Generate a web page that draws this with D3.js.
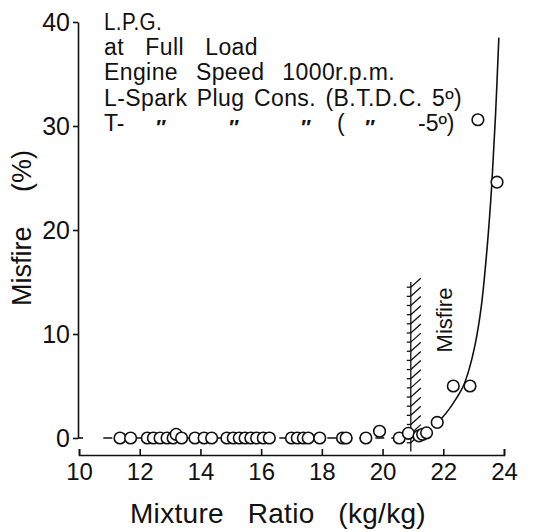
<!DOCTYPE html>
<html>
<head>
<meta charset="utf-8">
<script src="https://cdn.jsdelivr.net/npm/d3@7"></script>
<style>
  body { margin: 0; background: #fff; }
  svg { display: block; }
  text { font-family: "Liberation Sans", Arial, sans-serif; fill: #111; }
</style>
</head>
<body>
<svg id="chart" width="533" height="532"></svg>
<script>
// ---- data ----
const xTicks = [10, 12, 14, 16, 18, 20, 22, 24];
const yTicks = [0, 10, 20, 30, 40];
// points along / near the zero line (mixture ratio, misfire %)
const zeroX = [11.35, 11.7, 12.25, 12.45, 12.67, 12.9, 13.1, 13.2, 13.38, 13.82, 14.12, 14.37,
               14.87, 15.08, 15.28, 15.47, 15.66, 15.85, 16.07, 16.27, 17.0, 17.19, 17.39,
               17.55, 17.93, 18.68, 18.8, 19.45, 19.9, 20.55, 20.85, 21.2, 21.32, 21.45];
const zeroY = [0, 0, 0, 0, 0, 0, 0, 0.35, 0, 0, 0, 0,
               0, 0, 0, 0, 0, 0, 0, 0, 0, 0, 0,
               0, 0, 0, 0, 0, 0.65, 0, 0.45, 0.2, 0.35, 0.5];
// points in the misfire region
const highX = [21.8, 22.33, 22.88, 23.14, 23.77];
const highY = [1.5, 5.0, 5.0, 30.6, 24.6];
// fitted curve
const curveX = [21.85, 21.95, 22.2, 22.45, 22.66, 22.85, 23.05, 23.25, 23.45, 23.6, 23.72, 23.83];
const curveY = [1.6, 1.9, 2.8, 3.9, 5.0, 6.6, 9.0, 12.6, 18.5, 24.5, 31.0, 38.5];
const misfireLimit = 20.93;
const legendLines = ["L.P.G.", "at Full Load", "Engine Speed 1000r.p.m.", "L-Spark Plug Cons. (B.T.D.C. 5º)"];
const legendLast = ["T-", "\u2033", "\u2033", "\u2033", "(", "\u2033", "-5º)"];

// ---- scales ----
const svg = d3.select("#chart");
const x = d3.scaleLinear().domain([10, 24]).range([79, 504]);
const y = d3.scaleLinear().domain([0, 40]).range([438, 22]);

// helper: fit a text to a target width by widening word gaps (or squeezing if too long)
function fitWords(sel, target) {
  const node = sel.node();
  const len = node.getComputedTextLength();
  const gaps = (sel.text().match(/ /g) || []).length;
  if (len > target) sel.attr("textLength", target).attr("lengthAdjust", "spacingAndGlyphs");
  else if (gaps > 0) sel.attr("word-spacing", (target - len) / gaps);
}

// ---- x axis (below zero line) ----
const xAxisY = 455;
const xAxis = svg.append("g").attr("transform", `translate(0,${xAxisY})`)
  .call(d3.axisBottom(x).tickValues(xTicks).tickSizeInner(-6).tickSizeOuter(-6).tickPadding(8).tickFormat(d3.format("d")));
xAxis.select(".domain").attr("stroke", "#111").attr("stroke-width", 1.6);
xAxis.selectAll(".tick line").attr("stroke", "#111").attr("stroke-width", 1.6);
xAxis.selectAll(".tick text").attr("font-size", 24).attr("fill", "#111")
  .style("font-family", "Liberation Sans, Arial, sans-serif");

// ---- y axis ----
const yAxis = svg.append("g").attr("transform", `translate(78,0)`)
  .call(d3.axisLeft(y).tickValues(yTicks).tickSizeInner(5).tickSizeOuter(0).tickPadding(3).tickFormat(d3.format("d")));
yAxis.select(".domain").attr("stroke", "#111").attr("stroke-width", 1.6);
yAxis.selectAll(".tick line").attr("stroke", "#111").attr("stroke-width", 1.6);
yAxis.selectAll(".tick text").attr("font-size", 25).attr("fill", "#111")
  .style("font-family", "Liberation Sans, Arial, sans-serif");
svg.append("line").attr("x1", 78).attr("x2", 83).attr("y1", y(0)).attr("y2", y(0))
  .attr("stroke", "#111").attr("stroke-width", 1.6);

// ---- axis titles ----
const xt = svg.append("text").attr("x", 130).attr("y", 523)
  .attr("font-size", 28).attr("letter-spacing", 0.3).text("Mixture Ratio (kg/kg)");
fitWords(xt, 296);
svg.append("text").attr("transform", "translate(31,306) rotate(-90)")
  .attr("font-size", 27).text("Misfire");
svg.append("text").attr("transform", "translate(31,192) rotate(-90)")
  .attr("font-size", 27).text("(%)");

// ---- misfire limit with hatching ----
const lx = x(misfireLimit);
const hatch = svg.append("g").attr("stroke", "#111").attr("stroke-width", 1.3).attr("fill", "none");
hatch.append("line").attr("x1", lx).attr("x2", lx).attr("y1", y(15)).attr("y2", y(-1.3));
d3.range(14.5, -1.0, -0.88).forEach(v => {
  const py = y(v);
  hatch.append("line").attr("x1", lx - 4).attr("x2", lx).attr("y1", py).attr("y2", py);
  hatch.append("line").attr("x1", lx).attr("x2", lx + 10).attr("y1", py).attr("y2", py - 9);
});
svg.append("text").attr("transform", `translate(${lx + 41},320) rotate(-90)`).attr("text-anchor", "middle")
  .attr("font-size", 22).text("Misfire");

// ---- dashed zero line ----
svg.append("line").attr("x1", x(10.8)).attr("x2", x(20.7)).attr("y1", y(0)).attr("y2", y(0))
  .attr("stroke", "#111").attr("stroke-width", 1.5).attr("stroke-dasharray", "9,7");

// ---- curve ----
const curveData = curveX.map((v, i) => [v, curveY[i]]);
svg.append("path").datum(curveData)
  .attr("d", d3.line().x(d => x(d[0])).y(d => y(d[1])).curve(d3.curveCatmullRom))
  .attr("fill", "none").attr("stroke", "#111").attr("stroke-width", 1.6);

// ---- points ----
const pts = zeroX.map((v, i) => [v, zeroY[i]]).concat(highX.map((v, i) => [v, highY[i]]));
svg.append("g").selectAll("circle").data(pts).join("circle")
  .attr("cx", d => x(d[0])).attr("cy", d => y(d[1])).attr("r", 5.8)
  .attr("fill", "#fff").attr("stroke", "#111").attr("stroke-width", 1.6);

// ---- legend text ----
const legendX = 104;
const legendBase = [30, 55, 80, 106];
const legendWidths = [58, 154, 291, 358];
legendLines.forEach((t, i) => {
  const tx = svg.append("text").attr("x", legendX).attr("y", legendBase[i])
    .attr("font-size", 23).attr("letter-spacing", 0.4).text(t);
  fitWords(tx, legendWidths[i]);
});
const lastX = [104, 155, 228, 300, 337, 364, 418];
legendLast.forEach((t, i) => {
  const ditto = t === "\u2033";
  svg.append("text").attr("x", lastX[i]).attr("y", ditto ? 134 : 131).attr("font-size", ditto ? 21 : 23)
    .attr("font-weight", ditto ? "bold" : "normal").attr("font-style", ditto ? "italic" : "normal")
    .text(t);
});
</script>
</body>
</html>
